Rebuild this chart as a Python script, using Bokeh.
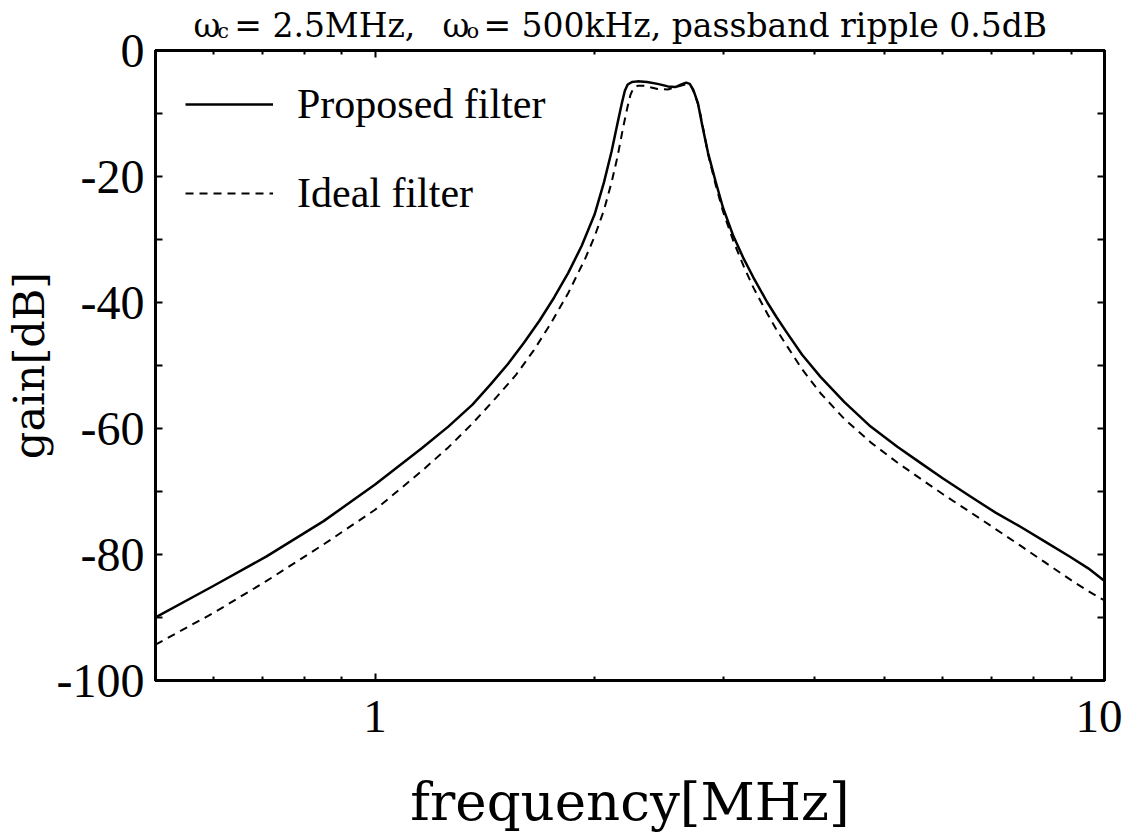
from bokeh.plotting import figure
from bokeh.layouts import column
from bokeh.models import (Range1d, FixedTicker, LinearAxis, LogAxis, Legend,
                          LegendItem, BasicTickFormatter)
from bokeh.core.properties import value
from bokeh.embed import file_html
from bokeh.resources import INLINE

# ---------------- data ----------------
freq_proposed = [0.5, 0.6, 0.71, 0.85, 1.0, 1.16, 1.26, 1.36, 1.44, 1.52, 1.60,
                 1.68, 1.76, 1.84, 1.92, 2.0, 2.06, 2.11, 2.15, 2.18, 2.20, 2.22,
                 2.25, 2.29, 2.36, 2.44, 2.52, 2.58, 2.63, 2.67, 2.70, 2.73, 2.77,
                 2.81, 2.86, 2.93, 3.0, 3.1, 3.2, 3.3, 3.45, 3.55, 3.675, 3.85,
                 4.08, 4.4, 4.78, 5.2, 5.6, 6.0, 6.55, 7.1, 7.67, 8.3, 8.98, 9.5,
                 10.0]
gain_proposed = [-90.0, -85.0, -80.3, -74.7, -68.9, -63.1, -59.7, -56.2, -53.0,
                 -49.8, -46.4, -42.9, -39.2, -35.3, -31.0, -26.0, -20.9, -16.0,
                 -11.5, -8.3, -6.4, -5.4, -5.0, -4.9, -5.0, -5.3, -5.7, -5.8,
                 -5.4, -5.1, -5.3, -6.2, -8.3, -12.0, -16.2, -20.8, -25.0, -29.5,
                 -33.0, -36.0, -40.0, -42.3, -44.9, -48.3, -51.8, -55.8, -59.7,
                 -62.9, -65.5, -67.9, -70.8, -73.4, -75.6, -78.0, -80.4, -82.2,
                 -84.2]

freq_ideal = [0.5, 0.6, 0.71, 0.85, 1.0, 1.16, 1.26, 1.36, 1.46, 1.56, 1.65, 1.74,
              1.84, 1.94, 2.0, 2.06, 2.11, 2.15, 2.19, 2.22, 2.24, 2.26, 2.29,
              2.34, 2.44, 2.52, 2.60, 2.68, 2.71, 2.74, 2.78, 2.82, 2.86, 2.93,
              3.0, 3.1, 3.2, 3.3, 3.45, 3.55, 3.675, 3.85, 4.08, 4.4, 4.78, 5.2,
              5.6, 6.0, 6.55, 7.1, 7.67, 8.3, 8.98, 9.5, 10.0]
gain_ideal = [-94.3, -89.3, -84.2, -78.4, -72.9, -66.7, -63.0, -59.2, -55.3, -51.5,
              -47.6, -43.4, -38.5, -33.1, -29.5, -25.3, -20.9, -16.8, -12.0, -8.8,
              -7.0, -6.0, -5.6, -5.6, -6.1, -6.2, -5.7, -5.3, -5.6, -6.8, -9.0,
              -12.6, -16.4, -21.3, -25.6, -30.3, -34.2, -37.6, -41.8, -44.3,
              -47.0, -50.6, -54.4, -58.5, -62.2, -65.4, -68.0, -70.4, -73.3,
              -76.0, -78.6, -81.3, -84.0, -85.8, -87.3]

series_names = ["Proposed filter", "Ideal filter"]
x_major_ticks = [1, 10]
x_tick_labels = ["1", "10"]
x_minor_ticks = [0.6, 0.7, 0.8, 0.9, 2, 3, 4, 5, 6, 7, 8, 9]
y_major_ticks = [-100, -80, -60, -40, -20, 0]
y_tick_labels = ["-100", "-80", "-60", "-40", "-20", "0"]
y_minor_ticks = [-90, -70, -50, -30, -10]
x_label = "frequency[MHz]"
y_label = "gain[dB]"
# title pieces; the single letters are subscripts
title_main = ["ω", "= 2.5MHz,", "ω", "= 500kHz,  passband ripple 0.5dB"]
title_subs = ["c", "o"]

# ---------------- styling ----------------
FONT = "Liberation Serif"
TFONT = "DejaVu Serif"
X0, X1 = 0.5, 10.0
Y0, Y1 = -100.0, 0.0
FW, FH = 949, 630          # frame size in px
PAGE_W = 1119
TITLE_H = 48
OVERLAP = 26               # chart canvas slides under the title strip
FRAME_L, FRAME_R = 155, 1104   # frame edges on the page (px)

p = figure(x_axis_type="log", x_range=Range1d(X0, X1), y_range=Range1d(Y0, Y1),
           frame_width=FW, frame_height=FH,
           min_border_left=147, min_border_top=2 + OVERLAP, min_border_right=18,
           min_border_bottom=4,
           output_backend="svg", toolbar_location=None, title=None)
p.styles = {"margin-top": f"-{OVERLAP}px"}
p.background_fill_color = "white"
p.border_fill_alpha = 0
p.outline_line_color = "black"
p.outline_line_width = 3
p.xgrid.visible = False
p.ygrid.visible = False

xt = FixedTicker(ticks=x_major_ticks, minor_ticks=x_minor_ticks)
yt = FixedTicker(ticks=y_major_ticks, minor_ticks=y_minor_ticks)


def style_axis(ax, maj_in, min_in):
    ax.axis_line_width = 3
    ax.axis_line_color = "black"
    ax.major_tick_in = maj_in
    ax.major_tick_out = 0
    ax.minor_tick_in = min_in
    ax.minor_tick_out = 0
    ax.major_tick_line_width = 2
    ax.minor_tick_line_width = 2
    ax.major_tick_line_color = "black"
    ax.minor_tick_line_color = "black"
    ax.major_label_text_font = FONT
    ax.major_label_text_color = "black"
    ax.axis_label_text_font = TFONT
    ax.axis_label_text_color = "black"
    ax.axis_label_text_font_style = "normal"


xa = p.xaxis[0]
xa.ticker = xt
xa.formatter = BasicTickFormatter()
xa.major_label_overrides = dict(zip(x_major_ticks, x_tick_labels))
style_axis(xa, 7, 4)
xa.major_label_text_font_size = "47px"
xa.major_label_standoff = 20
xa.axis_label = x_label
xa.axis_label_text_font_size = "53px"
xa.axis_label_standoff = 36

ya = p.yaxis[0]
ya.ticker = yt
ya.major_label_overrides = dict(zip(y_major_ticks, y_tick_labels))
style_axis(ya, 7, 7)
ya.major_label_text_font_size = "48px"
ya.major_label_standoff = 11
ya.axis_label = y_label
ya.axis_label_text_font_size = "43px"
ya.axis_label_standoff = 0

top = LogAxis(ticker=xt, major_label_overrides={t: "" for t in x_major_ticks})
style_axis(top, 7, 4)
top.major_label_standoff = 0
top.major_label_text_font_size = "1px"
p.add_layout(top, "above")

right = LinearAxis(ticker=yt, major_label_overrides={t: "" for t in y_major_ticks})
style_axis(right, 7, 7)
right.major_label_standoff = 0
right.major_label_text_font_size = "1px"
p.add_layout(right, "right")

r1 = p.line(freq_proposed, gain_proposed, line_color="black", line_width=2.5,
            line_join="round")
r2 = p.line(freq_ideal, gain_ideal, line_color="black", line_width=2,
            line_dash="8 6", line_join="round")

legend = Legend(items=[LegendItem(label=series_names[0], renderers=[r1]),
                       LegendItem(label=series_names[1], renderers=[r2])],
                location="top_left", margin=30, padding=0, spacing=41,
                glyph_width=88, glyph_height=40, label_height=40,
                label_standoff=24, label_text_font=FONT,
                label_text_color="black",
                label_text_font_size="42px", border_line_color=None,
                background_fill_alpha=0)
p.add_layout(legend)

# ---- title strip above the chart; its frame is aligned with the chart frame,
# so its x range is expressed in page pixels ----
t = figure(width=PAGE_W, height=TITLE_H, x_range=Range1d(FRAME_L, FRAME_R),
           y_range=Range1d(0, TITLE_H), min_border=0, output_backend="svg",
           toolbar_location=None, title=None)
t.axis.visible = False
t.grid.visible = False
t.outline_line_color = None
t.background_fill_color = "white"
t.border_fill_color = "white"
t.text(x=[193, 234, 443, 484], y=[23, 23, 23, 23], text=title_main,
       text_font=value(TFONT), text_font_size=value("33px"),
       text_align="left", text_baseline="alphabetic", text_color="black")
t.text(x=[217, 467], y=[18, 18], text=title_subs,
       text_font=value(TFONT), text_font_size=value("21px"),
       text_align="left", text_baseline="alphabetic", text_color="black")

layout = column(t, p, spacing=0)
open("out.html", "w").write(file_html(layout, INLINE))
